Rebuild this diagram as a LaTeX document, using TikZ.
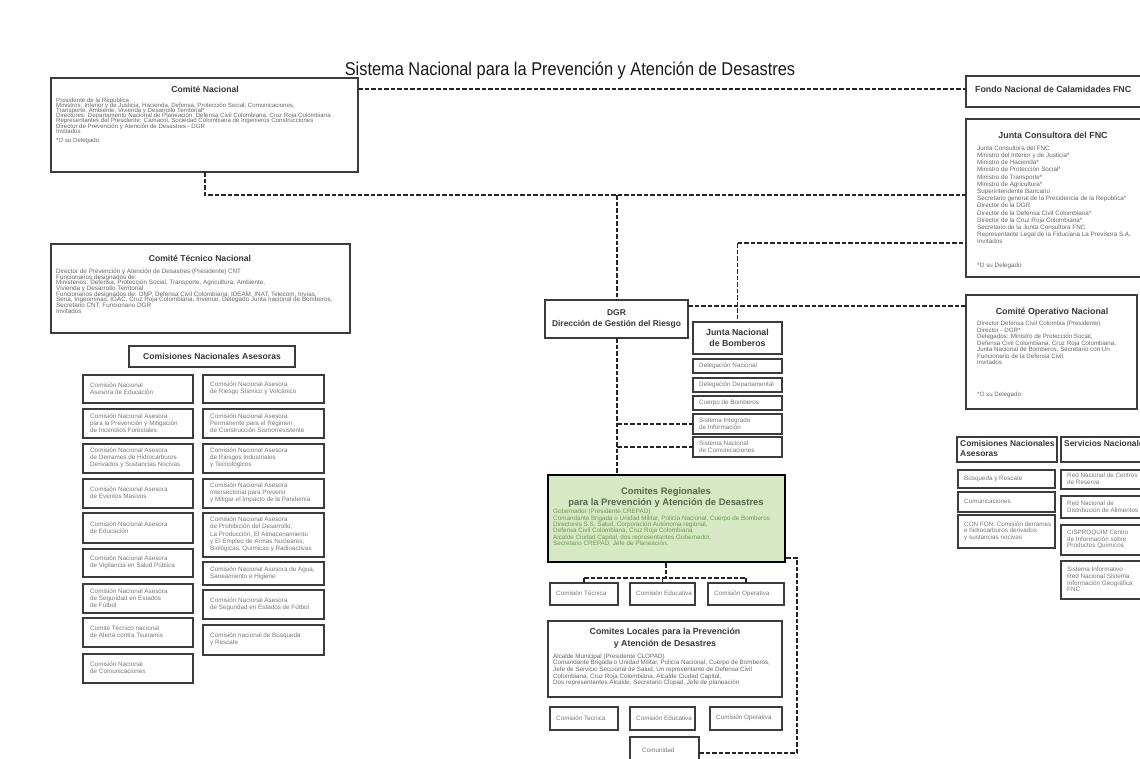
\documentclass[tikz,border=0pt]{standalone}
\usepackage{fontspec}
\setmainfont{Liberation Sans}
\usetikzlibrary{fit}
\definecolor{bord}{HTML}{3C3C3C}
\definecolor{regfill}{HTML}{D7E8C4}
\definecolor{regtitle}{HTML}{55674A}
\definecolor{reggreen}{HTML}{6E9A58}
\definecolor{txtg}{HTML}{666666}
\definecolor{txtl}{HTML}{777777}
\newcommand{\fsz}[2]{\fontsize{#1}{#2}\selectfont\lineskiplimit=-20pt\lineskip=0pt\relax}
\newcommand{\bxx}[6][]{\node[boxs,#1,fit={(#2,#3) (#4,#5)}] (#6) {};}
\newcommand{\cbx}[6]{\node[cbox,fit={(#2,#3) (#4,#5)}] (#1) {};\node[ctx] (#1t) at ([xshift=7pt,yshift=0.5pt]#1.west) {#6};}
\newcommand{\sbx}[6]{\node[cbox,fit={(#2,#3) (#4,#5)}] (#1) {};\node[stx] (#1t) at ([xshift=6pt,yshift=0.5pt]#1.west) {#6};}
\tikzset{
  boxs/.style={draw=bord, line width=1.3pt, inner sep=0pt, outer sep=0pt, fill=white},
  cbox/.style={boxs, line width=1.6pt},
  dl/.style={draw=black!85, line width=1.1pt, dash pattern=on 4.5pt off 2pt},
  ttl/.style={font=\bfseries\fsz{8.6}{10}, text=black!78, align=center, inner sep=0pt},
  bod/.style={font=\fsz{6.1}{5.2}, text=txtg, align=left, inner sep=0pt, anchor=north west},
  ctx/.style={font=\fsz{6.3}{7.2}, text=txtl, align=left, inner sep=0pt, anchor=west},
  stx/.style={font=\fsz{6.3}{6.6}, text=txtl, align=left, inner sep=0pt, anchor=west},
}
\begin{document}
\begin{tikzpicture}[x=1pt,y=-1pt]
\useasboundingbox (0,0) rectangle (1140,758);
\clip (0,0) rectangle (1140,758);
\fill[white] (0,0) rectangle (1140,758);

% title
\node[font=\fsz{18.5}{20}, text=black!90, inner sep=0pt] (title) at (570,71) {\scalebox{0.885}[1]{Sistema Nacional para la Prevención y Atención de Desastres}};

% Comite Nacional
\bxx{51}{78}{358}{172}{cn}
\node[ttl] (cnt) at (205,89) {Comité Nacional};
\node[bod] (cnb) at (56,97.5) {Presidente de la República\\
Ministros: Interior y de Justicia, Hacienda, Defensa, Protección Social, Comunicaciones,\\
Transporte, Ambiente, Vivienda y Desarrollo Territorial*\\
Directores: Departamento Nacional de Planeación, Defensa Civil Colombiana, Cruz Roja Colombiana\\
Representantes del Presidente: Camacol, Sociedad Colombiana de Ingenieros Construcciones\\
Director de Prevención y Atención de Desastres - DGR\\
Invitados};
\node[bod] (cnd) at (56,137.5) {*O su Delegado};

% Fondo
\bxx{966}{76}{1150}{107}{fnc}
\node[ttl, anchor=west, font=\bfseries\fsz{8.8}{10}] (fnct) at (975,89) {Fondo Nacional de Calamidades FNC};

% Junta Consultora
\bxx{966}{119}{1150}{277}{jc}
\node[ttl, font=\bfseries\fsz{8.9}{10}] (jct) at (1053,135) {Junta Consultora del FNC};
\node[bod, font=\fsz{6.3}{7.2}] (jcb) at (977,145.5) {Junta Consultora del FNC\\
Ministro del Interior y de Justicia*\\
Ministro de Hacienda*\\
Ministro de Protección Social*\\
Ministro de Transporte*\\
Ministro de Agricultura*\\
Superintendente Bancario\\
Secretario general de la Presidencia de la República*\\
Director de la DGR\\
Director de la Defensa Civil Colombiana*\\
Director de la Cruz Roja Colombiana*\\
Secretario de la Junta Consultora FNC\\
Representante Legal de la Fiduciaria La Previsora S.A.\\
Invitados};
\node[bod, font=\fsz{6.3}{7.2}] (jcd) at (977,263) {*O su Delegado};

% Comite Operativo
\bxx{966}{295}{1137}{409}{con}
\node[ttl, font=\bfseries\fsz{8.8}{10}] (cont) at (1052,312) {Comité Operativo Nacional};
\node[bod, font=\fsz{6.2}{6.5}] (conb) at (977,321) {Director Defensa Civil Colombia (Presidente)\\
Director - DGR*\\
Delegados: Ministro de Protección Social,\\
Defensa Civil Colombiana, Cruz Roja Colombiana,\\
Junta Nacional de Bomberos, Secretario con Un\\
Funcionario de la Defensa Civil.\\
Invitados};
\node[bod, font=\fsz{6.2}{6.5}] (cond) at (977,392) {*O su Delegado};

% Comite Tecnico Nacional
\bxx{51}{244}{350}{333}{ctn}
\node[ttl] (ctnt) at (200,258) {Comité Técnico Nacional};
\node[bod, font=\fsz{6.3}{5.7}] (ctnb) at (56,268.5) {Director de Prevención y Atención de Desastres (Presidente) CNT\\
Funcionarios designados de:\\
Ministerios: Defensa, Protección Social, Transporte, Agricultura, Ambiente,\\
Vivienda y Desarrollo Territorial\\
Funcionarios designados de: DNP, Defensa Civil Colombiana, IDEAM, INAT, Telecom, Invías,\\
Sena, Ingeominas, IGAC, Cruz Roja Colombiana, Invemar, Delegado Junta nacional de Bomberos,\\
Secretario CNT, Funcionario DGR\\
Invitados};

% Comisiones Nacionales Asesoras (left)
\node[cbox, fit={(129,346) (295,367)}] (cna) {};
\node[ttl] (cnat) at (cna.center) {Comisiones Nacionales Asesoras};
\cbx{l1}{83}{375}{193}{403}{Comisión Nacional\\Asesora de Educación}
\cbx{l2}{83}{409}{193}{438}{Comisión Nacional Asesora\\para la Prevención y Mitigación\\de Incendios Forestales}
\cbx{l3}{83}{444}{193}{473}{Comisión Nacional Asesora\\de Derrames de Hidrocarburos\\Derivados y Sustancias Nocivas}
\cbx{l4}{83}{479}{193}{508}{Comisión Nacional Asesora\\de Eventos Masivos}
\cbx{l5}{83}{513}{193}{543}{Comisión Nacional Asesora\\de Educación}
\cbx{l6}{83}{549}{193}{577}{Comisión Nacional Asesora\\de Vigilancia en Salud Pública}
\cbx{l7}{83}{584}{193}{613}{Comisión Nacional Asesora\\de Seguridad en Estados\\de Fútbol}
\cbx{l8}{83}{618}{193}{647}{Comité Técnico nacional\\de Alerta contra Tsunamis}
\cbx{l9}{83}{654}{193}{683}{Comisión Nacional\\de Comunicaciones}
\cbx{r1}{203}{375}{324}{403}{Comisión Nacional Asesora\\de Riesgo Sísmico y Volcánico}
\cbx{r2}{203}{409}{324}{438}{Comisión Nacional Asesora\\Permanente para el Régimen\\de Construcción Sismorresistente}
\cbx{r3}{203}{444}{324}{473}{Comisión Nacional Asesora\\de Riesgos Industriales\\y Tecnológicos}
\cbx{r4}{203}{479}{324}{508}{Comisión Nacional Asesora\\Intersectorial para Prevenir\\y Mitigar el Impacto de la Pandemia}
\cbx{r5}{203}{513}{324}{557}{Comisión Nacional Asesora\\de Prohibición del Desarrollo,\\La Producción, El Almacenamiento\\y El Empleo de Armas Nucleares,\\Biológicas, Químicas y Radioactivas}
\cbx{r6}{203}{562}{324}{585}{Comisión Nacional Asesora de Agua,\\Saneamiento e Higiene}
\cbx{r7}{203}{590}{324}{619}{Comisión Nacional Asesora\\de Seguridad en Estados de Fútbol}
\cbx{r8}{203}{625}{324}{655}{Comisión nacional de Búsqueda\\y Rescate}

% DGR
\bxx{545}{300}{688}{338}{dgr}
\node[ttl, font=\bfseries\fsz{8.4}{10.5}] (dgrt) at (dgr.center) {DGR\\Dirección de Gestión del Riesgo};

% Junta Nacional de Bomberos
\bxx{693}{322}{782}{354}{jnb}
\node[ttl, font=\bfseries\fsz{8.8}{10.5}] (jnbt) at (jnb.center) {Junta Nacional\\de Bomberos};
\sbx{j1}{693}{359}{782}{373}{Delegación Nacional}
\sbx{j2}{693}{378}{782}{392}{Delegación Departamental}
\sbx{j3}{693}{396}{782}{410}{Cuerpo de Bomberos}
\sbx{j4}{693}{414}{782}{434}{Sistema Integrado\\de Información}
\sbx{j5}{693}{437}{782}{457}{Sistema Nacional\\de Comunicaciones}

% right lower
\node[cbox, fit={(957,437) (1057,462)}] (cna2) {};
\node[ttl, anchor=north west, align=left, font=\bfseries\fsz{8.4}{10}] (cna2t) at (960,440) {Comisiones Nacionales\\Asesoras};
\node[cbox, fit={(1061,437) (1150,462)}] (sn) {};
\node[ttl, anchor=north west, align=left, font=\bfseries\fsz{8.4}{10}] (snt) at (1064,440) {Servicios Nacionales};
\sbx{b1}{958}{470}{1055}{488}{Búsqueda y Rescate}
\sbx{b2}{958}{492}{1055}{512}{Comunicaciones}
\sbx{b3}{958}{515}{1055}{548}{CON FON: Comisión derrames\\e hidrocarburos derivados\\y sustancias nocivas}
\sbx{s1}{1061}{470}{1150}{489}{Red Nacional de Centros\\de Reserva}
\sbx{s2}{1061}{496}{1150}{518}{Red Nacional de\\Distribución de Alimentos}
\sbx{s3}{1061}{525}{1150}{555}{CISPROQUIM Centro\\de Información sobre\\Productos Químicos}
\sbx{s4}{1061}{561}{1150}{599}{Sistema Informativo\\Red Nacional Sistema\\Información Geográfica\\FNC}

% Comites Regionales
\node[fill=regfill, draw=black, line width=2.4pt, inner sep=0pt, fit={(548,475) (785,562)}] (reg) {};
\node[ttl, font=\bfseries\fsz{9.4}{11}, text=regtitle] (regt) at (666,497.5) {Comites Regionales\\para la Prevención y Atención de Desastres};
\node[bod, font=\fsz{6.3}{6.4}, text=reggreen] (regb) at (553,509) {Gobernador (Presidente CREPAD)\\
Comandante Brigada o Unidad Militar, Policía Nacional, Cuerpo de Bomberos\\
Directores S.S. Salud, Corporación Autónoma regional,\\
Defensa Civil Colombiana, Cruz Roja Colombiana\\
Alcalde Ciudad Capital, dos representantes Gobernador,\\
Secretario CREPAD, Jefe de Planeación.};

\sbx{ct}{550}{583}{618}{605}{Comisión Técnica}
\sbx{ce}{630}{583}{695}{605}{Comisión Educativa}
\sbx{co}{708}{583}{784}{605}{Comisión Operativa}

% Comites Locales
\bxx{548}{621}{782}{697}{loc}
\node[ttl, font=\bfseries\fsz{8.8}{11.5}] (loct) at (665,638) {Comites Locales para la Prevención\\y Atención de Desastres};
\node[bod, font=\fsz{6.25}{6.6}] (locb) at (553,653.5) {Alcalde Municipal (Presidente CLOPAD)\\
Comandante Brigada o Unidad Militar, Policía Nacional, Cuerpo de Bomberos,\\
Jefe de Servicio Seccional de Salud, Un representante de Defensa Civil\\
Colombiana, Cruz Roja Colombiana, Alcalde Ciudad Capital,\\
Dos representantes Alcalde, Secretario Clopad, Jefe de planeación};

\sbx{lt}{550}{707}{618}{730}{Comisión Tecnica}
\sbx{le}{630}{707}{695}{730}{Comisión Educativa}
\sbx{lo}{710}{707}{782}{730}{Comisión Operativa}
\node[cbox, fit={(630,737) (699,768)}] (com) {};
\node[stx, anchor=base west] (comt) at (642,752) {Comunidad};

% connectors
\coordinate (k1) at (205,195);
\coordinate (k2) at (617,195);
\coordinate (k3) at (737.5,243);
\coordinate (k4) at (666,578);
\coordinate (k5) at (797,558);
\coordinate (k6) at (797,753);
\draw[dl] (cn.east |- 0,89) -- (fnc.west |- 0,89);
\draw[dl] (cn.south -| k1) -- (k1) -- (jc.west |- k1);
\draw[dl] (k2) -- (dgr.north -| k2);
\draw[dl] (k3) -- (jc.west |- k3);
\draw[dl] (k3) -- (jnb.north);
\draw[dl] (dgr.east |- 0,306) -- (con.west |- 0,306);
\draw[dl] (dgr.south -| k2) -- (reg.north -| k2);
\draw[dl] (k2 |- j4.west) -- (j4.west);
\draw[dl] (k2 |- j5.west) -- (j5.west);
\draw[dl] (reg.south -| k4) -- (k4);
\draw[dl] (ct.north |- k4) -- (co.north |- k4);
\draw[dl] (ct.north |- k4) -- (ct.north);
\draw[dl] (ce.north |- k4) -- (ce.north);
\draw[dl] (co.north |- k4) -- (co.north);
\draw[dl] (reg.east |- k5) -- (k5) -- (k6) -- (com.east |- k6);
\end{tikzpicture}
\end{document}
